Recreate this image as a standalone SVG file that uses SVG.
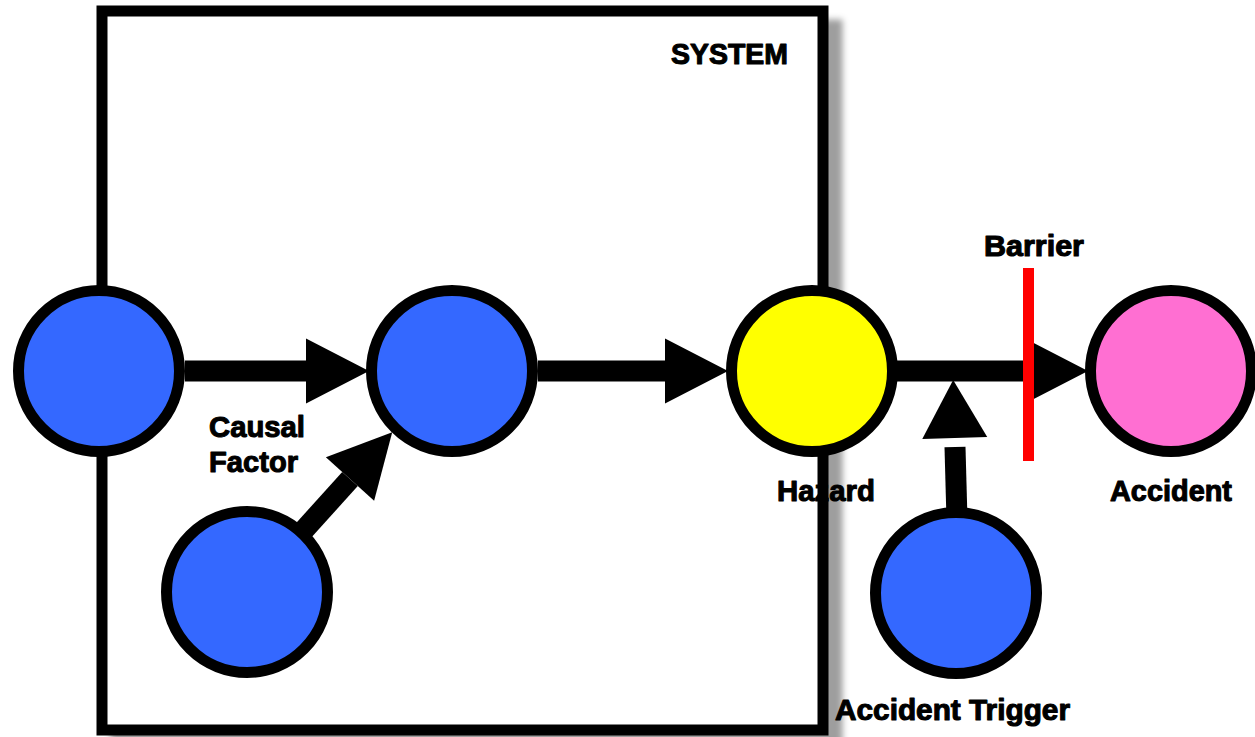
<svg xmlns="http://www.w3.org/2000/svg" width="1255" height="737" viewBox="0 0 1255 737">
  <style>
    .node { stroke: #000; stroke-width: 11; }
    .blue { fill: #3468ff; }
    .hazard { fill: #ffff00; }
    .accident { fill: #ff6fd2; }
    .link { stroke: #000; stroke-width: 21; fill: none; }
    .label { font-family: "Liberation Sans", Arial, sans-serif; font-weight: bold; font-size: 30px; fill: #000; stroke: #000; stroke-width: 1.1px; stroke-linejoin: round; }
  </style>
  <defs>
    <filter id="boxShadow" x="-5%" y="-5%" width="115%" height="115%">
      <feDropShadow dx="14" dy="14" stdDeviation="3" flood-color="#000" flood-opacity="0.38"/>
    </filter>
    <marker id="head" markerUnits="userSpaceOnUse" markerWidth="64" markerHeight="66" refX="0" refY="32.5" orient="auto" overflow="visible">
      <path d="M0,0 L63,32.5 L0,65 Z" fill="#000"/>
    </marker>
    <marker id="headGap" markerUnits="userSpaceOnUse" markerWidth="64" markerHeight="66" refX="-9" refY="32.5" orient="auto" overflow="visible">
      <path d="M0,0 L58,32.5 L0,65 Z" fill="#000"/>
    </marker>
  </defs>

  <!-- system boundary -->
  <g id="system">
    <rect x="102" y="11" width="721" height="719" fill="#fff" stroke="#000" stroke-width="11" filter="url(#boxShadow)"/>
    <text class="label" x="671" y="64" font-size="33" textLength="117" lengthAdjust="spacingAndGlyphs">SYSTEM</text>
  </g>

  <!-- connectors -->
  <g id="connectors">
    <line class="link" x1="185" y1="371" x2="306" y2="371" marker-end="url(#head)"/>
    <line class="link" x1="538" y1="371" x2="665" y2="371" marker-end="url(#head)"/>
    <line class="link" x1="285" y1="551" x2="350" y2="479" marker-end="url(#head)"/>
    <line class="link" x1="897" y1="371" x2="1025" y2="371" marker-end="url(#head)"/>
    <line class="link" x1="957" y1="520" x2="955" y2="447" marker-end="url(#headGap)"/>
  </g>

  <!-- barrier -->
  <g id="barrier">
    <rect x="1023" y="268" width="11" height="193" fill="#ff0000"/>
    <text class="label" x="984" y="256" textLength="100" lengthAdjust="spacingAndGlyphs">Barrier</text>
  </g>

  <!-- nodes -->
  <g id="node-root">
    <circle class="node blue" cx="99" cy="371" r="80.5"/>
  </g>
  <g id="node-causal">
    <circle class="node blue" cx="452" cy="371" r="80.5"/>
    <text class="label" x="209" y="437" textLength="96" lengthAdjust="spacingAndGlyphs">Causal</text>
    <text class="label" x="209" y="472" textLength="89" lengthAdjust="spacingAndGlyphs">Factor</text>
  </g>
  <g id="node-contributor">
    <circle class="node blue" cx="247" cy="592" r="80.5"/>
  </g>
  <g id="node-hazard">
    <circle class="node hazard" cx="812" cy="371" r="80.5"/>
    <text class="label" x="777" y="501" textLength="98" lengthAdjust="spacingAndGlyphs">Hazard</text>
  </g>
  <g id="node-accident">
    <circle class="node accident" cx="1171" cy="371" r="80.5"/>
    <text class="label" x="1110" y="501" textLength="122" lengthAdjust="spacingAndGlyphs">Accident</text>
  </g>
  <g id="node-trigger">
    <circle class="node blue" cx="956" cy="593" r="80.5"/>
    <text class="label" x="835" y="720" textLength="235" lengthAdjust="spacingAndGlyphs">Accident Trigger</text>
  </g>
</svg>
